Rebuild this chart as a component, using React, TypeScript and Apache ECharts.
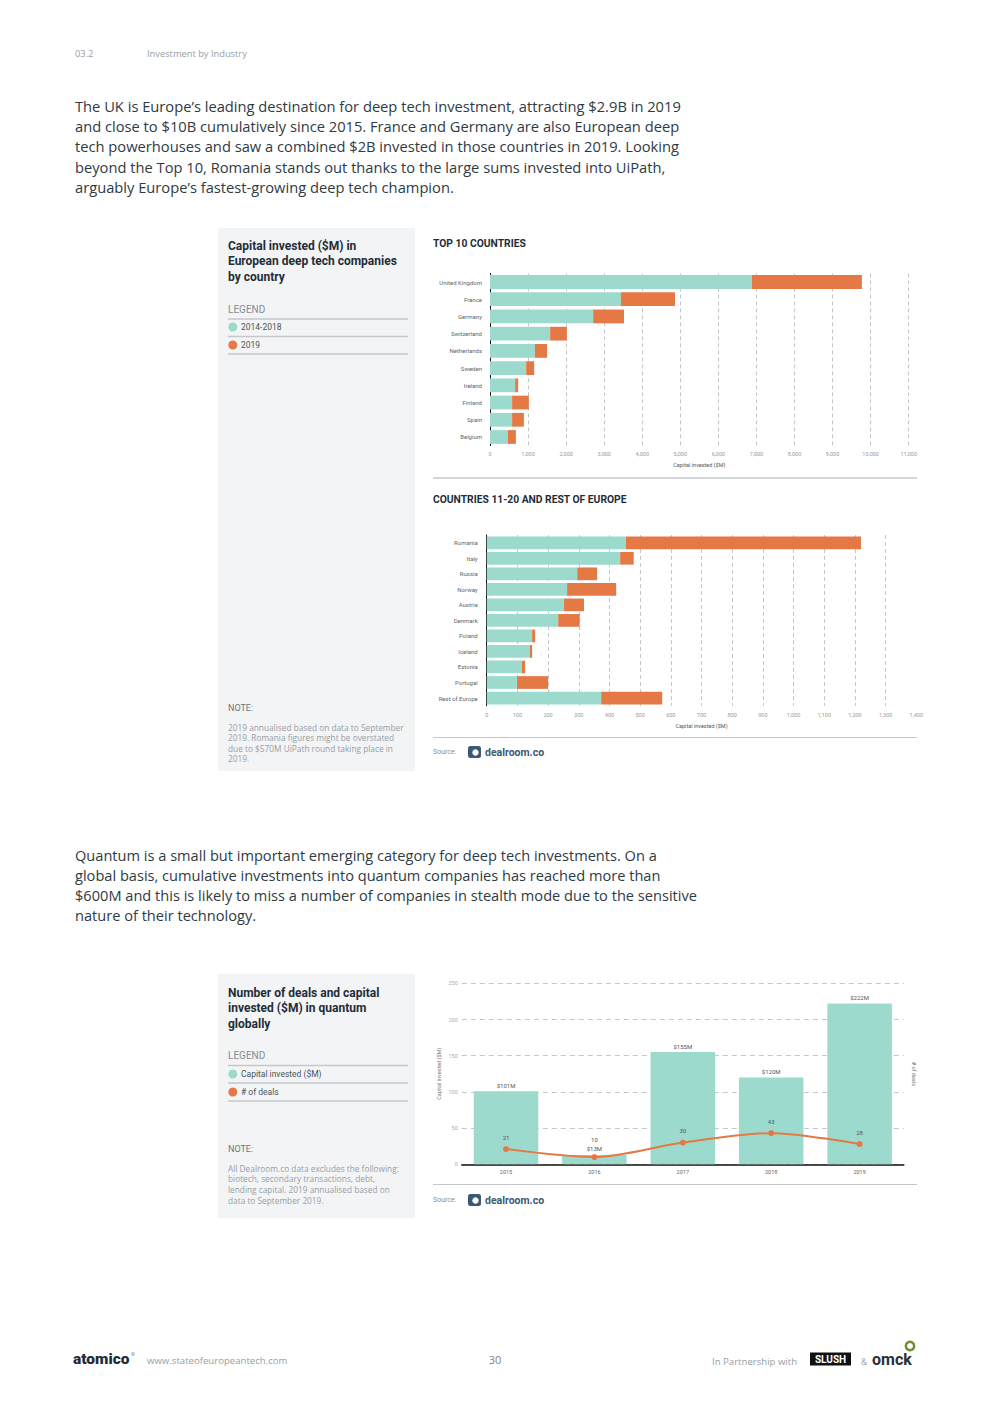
import React, { useEffect, useRef } from "react";
import * as echarts from "echarts";

// ---------- DATA ----------
const top10Countries = ["United Kingdom", "France", "Germany", "Switzerland", "Netherlands", "Sweden", "Ireland", "Finland", "Spain", "Belgium"];
const top10Base = [6880, 3440, 2710, 1580, 1180, 950, 660, 580, 580, 470];
const top10Recent = [2890, 1420, 810, 440, 320, 210, 80, 440, 310, 210];

const nextCountries = ["Romania", "Italy", "Russia", "Norway", "Austria", "Denmark", "Poland", "Iceland", "Estonia", "Portugal", "Rest of Europe"];
const nextBase = [454, 435, 295, 262, 252, 233, 148, 141, 115, 99, 373];
const nextRecent = [766, 44, 65, 160, 65, 70, 10, 7, 10, 101, 199];

const quantumYears = ["2015", "2016", "2017", "2018", "2019"];
const quantumCapital = [101, 13, 155, 120, 222];
const quantumDeals = [21, 10, 30, 43, 28];

const seriesNames = ["2014-2018", "2019"];
const quantumSeriesNames = ["Capital invested ($M)", "# of deals"];

const introLines = [
  "The UK is Europe\u2019s leading destination for deep tech investment, attracting $2.9B in 2019",
  "and close to $10B cumulatively since 2015. France and Germany are also European deep",
  "tech powerhouses and saw a combined $2B invested in those countries in 2019. Looking",
  "beyond the Top 10, Romania stands out thanks to the large sums invested into UiPath,",
  "arguably Europe\u2019s fastest-growing deep tech champion.",
];
const quantumLines = [
  "Quantum is a small but important emerging category for deep tech investments. On a",
  "global basis, cumulative investments into quantum companies has reached more than",
  "$600M and this is likely to miss a number of companies in stealth mode due to the sensitive",
  "nature of their technology.",
];
const panel1Title = ["Capital invested ($M) in", "European deep tech companies", "by country"];
const panel1Note = [
  "2019 annualised based on data to September",
  "2019. Romania figures might be overstated",
  "due to $570M UiPath round taking place in",
  "2019.",
];
const panel2Title = ["Number of deals and capital", "invested ($M) in quantum", "globally"];
const panel2Note = [
  "All Dealroom.co data excludes the following:",
  "biotech, secondary transactions, debt,",
  "lending capital. 2019 annualised based on",
  "data to September 2019.",
];

// ---------- STYLE ----------
const FONT = "Roboto, 'Noto Sans', sans-serif";
const BODYFONT = "'Open Sans', Roboto, sans-serif";
const TEAL = "#9cdacd";
const ORANGE = "#e57946";
const DARK = "#1f2d37";
const BODY = "#2f3b43";
const GREY = "#979ea5";
const PANEL = "#f3f4f6";
const RULE = "#c5c8cb";

function txt(text: string, x: number, y: number, size: number, color: string, opts: any = {}) {
  const align = opts.align || "left";
  return {
    type: "text",
    x,
    y,
    silent: true,
    style: {
      text,
      fontSize: size,
      fontFamily: opts.family || FONT,
      fontWeight: opts.weight || "normal",
      fill: color,
      align,
      textAlign: align,
      verticalAlign: "middle",
      textVerticalAlign: "middle",
    },
  };
}
function hline(x1: number, x2: number, y: number, color: string, w = 1) {
  return { type: "line", silent: true, shape: { x1, y1: y, x2, y2: y }, style: { stroke: color, lineWidth: w } };
}
function rect(x: number, y: number, w: number, h: number, fill: string, r = 0) {
  return { type: "rect", silent: true, shape: { x, y, width: w, height: h, r }, style: { fill } };
}
function dot(cx: number, cy: number, r: number, fill: string) {
  return { type: "circle", silent: true, shape: { cx, cy, r }, style: { fill } };
}

const fmt = (v: number) => v.toLocaleString("en-US");

function buildGraphics() {
  const g: any[] = [];
  const B = { family: BODYFONT };
  // header
  g.push(txt("03.2", 75, 53.5, 9.3, GREY, B));
  g.push(txt("Investment by Industry", 147, 53.5, 9.3, GREY, B));
  introLines.forEach((l, i) => g.push(txt(l, 75, 106 + 20.2 * i, 14.7, BODY, B)));
  quantumLines.forEach((l, i) => g.push(txt(l, 75, 855 + 20 * i, 14.6, BODY, B)));

  // panel 1
  g.push(rect(218, 228, 197, 543, PANEL));
  panel1Title.forEach((l, i) => g.push(txt(l, 228, 245.5 + 15.8 * i, 12, DARK, { weight: "bold" })));
  g.push(txt("LEGEND", 228, 309.5, 10, "#858c92"));
  g.push(hline(228, 408, 319, RULE, 1.5));
  g.push(dot(232.8, 327, 4.5, TEAL));
  g.push(txt(seriesNames[0], 241, 326.5, 8.5, "#4a545b"));
  g.push(hline(228, 408, 336.5, RULE, 1.5));
  g.push(dot(232.8, 345, 4.5, ORANGE));
  g.push(txt(seriesNames[1], 241, 344.5, 8.5, "#4a545b"));
  g.push(hline(228, 408, 354, RULE, 1.5));
  g.push(txt("NOTE:", 228, 708, 9, "#6d757c"));
  panel1Note.forEach((l, i) => g.push(txt(l, 228, 727 + 10.5 * i, 8.3, GREY, B)));

  // chart titles / rules
  g.push(txt("TOP 10 COUNTRIES", 433, 243, 10.3, DARK, { weight: "bold" }));
  g.push(hline(433, 917, 478, RULE, 1.5));
  g.push(txt("COUNTRIES 11-20 AND REST OF EUROPE", 433, 499, 10.3, DARK, { weight: "bold" }));
  g.push(hline(433, 917, 737.5, RULE, 1));
  const source = (y: number) => {
    g.push(txt("Source:", 433, y, 7, "#8a9096"));
    g.push(rect(468, y - 6, 13, 12, "#3b5875", 2.5));
    g.push(dot(475.5, y + 0.5, 3.2, "#ffffff"));
    g.push(txt("dealroom.co", 485, y, 10.5, "#3b5875", { weight: "bold" }));
  };
  source(752);

  // panel 2
  g.push(rect(218, 974, 197, 244, PANEL));
  panel2Title.forEach((l, i) => g.push(txt(l, 228, 992.5 + 15.8 * i, 12, DARK, { weight: "bold" })));
  g.push(txt("LEGEND", 228, 1055.5, 10, "#858c92"));
  g.push(hline(228, 408, 1065.5, RULE, 1.5));
  g.push(dot(232.8, 1074, 4.5, TEAL));
  g.push(txt(quantumSeriesNames[0], 241, 1073.5, 8.5, "#4a545b"));
  g.push(hline(228, 408, 1083, RULE, 1.5));
  g.push(dot(232.8, 1092, 4.5, ORANGE));
  g.push(txt(quantumSeriesNames[1], 241, 1091.5, 8.5, "#4a545b"));
  g.push(hline(228, 408, 1101, RULE, 1.5));
  g.push(txt("NOTE:", 228, 1148.5, 9, "#6d757c"));
  panel2Note.forEach((l, i) => g.push(txt(l, 228, 1168 + 10.8 * i, 8.3, GREY, B)));
  g.push(hline(433, 917, 1184.5, RULE, 1));
  source(1200);

  // footer
  g.push(txt("atomico", 73, 1359, 15.5, DARK, { weight: 900 }));
  g.push(dot(133, 1354, 2, TEAL));
  g.push(txt("www.stateofeuropeantech.com", 147, 1360, 9.6, GREY, B));
  g.push(txt("30", 495, 1359, 11, "#7d848a", { align: "center", family: BODYFONT }));
  g.push(txt("In Partnership with", 712, 1361, 9.6, GREY, B));
  g.push(rect(810, 1352.5, 41, 13, "#111111"));
  g.push(txt("SLUSH", 830.5, 1359.5, 10, "#ffffff", { align: "center", weight: "bold" }));
  g.push(txt("&", 861, 1361, 8.5, GREY, B));
  g.push(txt("omck", 872, 1359.5, 16, "#2a2f33", { weight: "bold" }));
  g.push({ type: "circle", silent: true, shape: { cx: 910, cy: 1346, r: 4.2 }, style: { fill: "none", stroke: "#6f8f35", lineWidth: 2.5 } });
  return g;
}

const smallLabel = { fontSize: 5.5, color: "#9a9a9a", fontFamily: FONT };
const catLabel = { fontSize: 6, color: "#5d656b", fontFamily: FONT };
const dashed = { type: [4, 3], color: "#c6c6c6", width: 1 };

export default function App() {
  const ref = useRef<HTMLDivElement>(null);
  useEffect(() => {
    if (!ref.current) return;
    const chart = echarts.init(ref.current, null, { renderer: "svg", width: 992, height: 1403 });
    // the 2016 deal label sits just above the tiny bar's own label
    const dealsData = quantumDeals.map((v, i) =>
      quantumCapital[i] < 20 ? { value: v, label: { distance: 12 } } : v
    );
    const option: any = {
      animation: false,
      backgroundColor: "#ffffff",
      textStyle: { fontFamily: FONT },
      grid: [
        { left: 490, top: 273.4, width: 418.7, height: 172.2 },
        { left: 486.7, top: 535, width: 429.6, height: 170.8 },
        { left: 461.8, top: 983.3, width: 442, height: 181 },
      ],
      xAxis: [
        {
          gridIndex: 0, type: "value", min: 0, max: 11000, interval: 1000,
          axisLine: { show: false }, axisTick: { show: false },
          splitLine: { show: true, lineStyle: dashed },
          axisLabel: { ...smallLabel, margin: 5, formatter: fmt },
          name: "Capital invested ($M)", nameLocation: "middle", nameGap: 16,
          nameTextStyle: { fontSize: 5.5, color: "#555", fontFamily: FONT },
        },
        {
          gridIndex: 1, type: "value", min: 0, max: 1400, interval: 100,
          axisLine: { show: false }, axisTick: { show: false },
          splitLine: { show: true, showMaxLine: false, lineStyle: dashed },
          axisLabel: { ...smallLabel, margin: 6, formatter: fmt },
          name: "Capital invested ($M)", nameLocation: "middle", nameGap: 17.5,
          nameTextStyle: { fontSize: 5.5, color: "#555", fontFamily: FONT },
        },
        {
          gridIndex: 2, type: "category", data: quantumYears,
          axisLine: { show: true, lineStyle: { color: "#111", width: 1.5 } },
          axisTick: { show: false },
          axisLabel: { fontSize: 5.5, color: "#666", fontFamily: FONT, margin: 4.5 },
        },
      ],
      yAxis: [
        {
          gridIndex: 0, type: "category", data: top10Countries, inverse: true,
          axisLine: { show: true, lineStyle: { color: "#111", width: 1 } },
          axisTick: { show: false }, axisLabel: { ...catLabel, margin: 8 },
        },
        {
          gridIndex: 1, type: "category", data: nextCountries, inverse: true,
          axisLine: { show: true, lineStyle: { color: "#111", width: 1 } },
          axisTick: { show: false }, axisLabel: { ...catLabel, margin: 9 },
        },
        {
          gridIndex: 2, type: "value", min: 0, max: 250, interval: 50,
          axisLine: { show: false }, axisTick: { show: false },
          splitLine: { show: true, lineStyle: { type: [5, 4], color: "#c6c6c6", width: 1 } },
          axisLabel: { ...smallLabel, color: "#aaaaaa", margin: 4 },
          name: "Capital invested ($M)", nameLocation: "middle", nameGap: 20,
          nameTextStyle: { fontSize: 5.5, color: "#777", fontFamily: FONT },
        },
        {
          gridIndex: 2, type: "value", min: 0, max: 250, interval: 50, position: "right",
          axisLine: { show: false }, axisTick: { show: false }, splitLine: { show: false },
          axisLabel: { show: false },
          name: "# of deals", nameLocation: "middle", nameGap: 7, nameRotate: -90,
          nameTextStyle: { fontSize: 5.5, color: "#777", fontFamily: FONT },
        },
      ],
      series: [
        { type: "bar", name: seriesNames[0], xAxisIndex: 0, yAxisIndex: 0, stack: "top", data: top10Base, itemStyle: { color: TEAL }, barCategoryGap: "20%" },
        { type: "bar", name: seriesNames[1], xAxisIndex: 0, yAxisIndex: 0, stack: "top", data: top10Recent, itemStyle: { color: ORANGE }, barCategoryGap: "20%" },
        { type: "bar", name: seriesNames[0], xAxisIndex: 1, yAxisIndex: 1, stack: "next", data: nextBase, itemStyle: { color: TEAL }, barCategoryGap: "18%" },
        { type: "bar", name: seriesNames[1], xAxisIndex: 1, yAxisIndex: 1, stack: "next", data: nextRecent, itemStyle: { color: ORANGE }, barCategoryGap: "18%" },
        {
          type: "bar", name: quantumSeriesNames[0], xAxisIndex: 2, yAxisIndex: 2, data: quantumCapital,
          barWidth: "73%", itemStyle: { color: TEAL },
          label: { show: true, position: "top", distance: 3, fontSize: 6, color: "#555", fontFamily: FONT, formatter: (p: any) => "$" + p.value + "M" },
        },
        {
          type: "line", name: quantumSeriesNames[1], xAxisIndex: 2, yAxisIndex: 3, data: dealsData,
          smooth: 0.3, symbol: "circle", symbolSize: 6,
          lineStyle: { color: ORANGE, width: 2 }, itemStyle: { color: ORANGE },
          label: { show: true, position: "top", distance: 6, fontSize: 6, color: "#555", fontFamily: FONT },
          z: 5,
        },
      ],
      graphic: { elements: buildGraphics() },
    };
    chart.setOption(option);
    return () => chart.dispose();
  }, []);
  return <div ref={ref} style={{ position: "absolute", left: 0, top: 0, width: 992, height: 1403, background: "#fff" }} />;
}
